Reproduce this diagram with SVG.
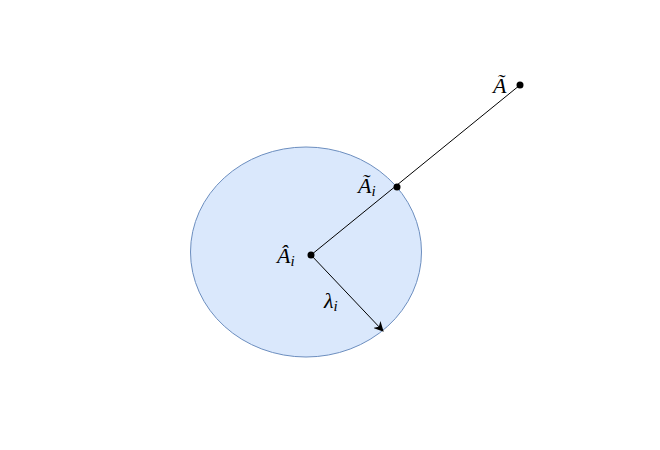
<svg xmlns="http://www.w3.org/2000/svg" width="660" height="450" viewBox="0 0 660 450">
<defs>
<style>
.lbl{font-family:"Liberation Serif","DejaVu Serif",serif;font-style:italic;font-size:22px;fill:#000}
.sub{font-size:15px}
.ln{stroke:#000;stroke-width:1;fill:none}
</style>
<marker id="ah" viewBox="0 0 10 10" refX="9" refY="5" markerWidth="10" markerHeight="10" markerUnits="userSpaceOnUse" orient="auto">
<path d="M0,0 L10,5 L0,10 L3,5 Z" fill="#000"/>
</marker>
</defs>
<rect width="660" height="450" fill="#fff"/>
<g id="circle">
<ellipse cx="306" cy="252" rx="115.5" ry="105" fill="#dae8fc" stroke="#6c8ebf" stroke-width="1"/>
</g>
<g id="connectors">
<line class="ln" x1="311" y1="255" x2="520" y2="85"/>
<line class="ln" x1="311" y1="255" x2="383" y2="331" marker-end="url(#ah)"/>
</g>
<g id="A-tilde">
<circle cx="520" cy="85" r="3.5" fill="#000"/>
<text class="lbl" x="493" y="93">Ã</text>
</g>
<g id="A-tilde-i">
<circle cx="397" cy="187" r="3.5" fill="#000"/>
<text class="lbl" x="358" y="193">Ã<tspan class="sub" dy="3">i</tspan></text>
</g>
<g id="A-hat-i">
<circle cx="311" cy="255" r="3.5" fill="#000"/>
<text class="lbl" x="277" y="263">Â<tspan class="sub" dy="3">i</tspan></text>
</g>
<g id="lambda">
<text class="lbl" x="324" y="308">λ<tspan class="sub" dy="3">i</tspan></text>
</g>
</svg>
